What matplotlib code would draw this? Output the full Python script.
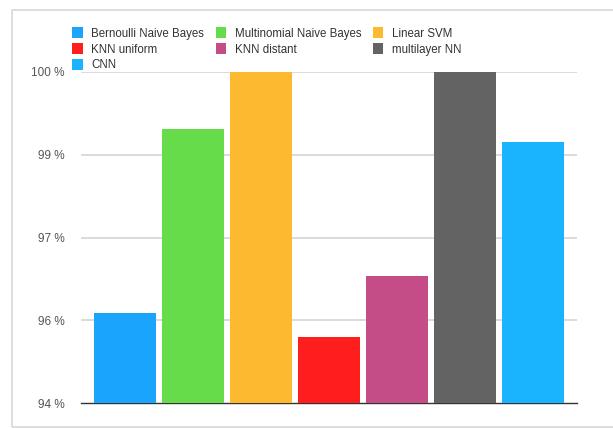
import matplotlib.pyplot as plt
from matplotlib.patches import Rectangle, Patch

models = ["Bernoulli Naive Bayes", "Multinomial Naive Bayes", "Linear SVM",
          "KNN uniform", "KNN distant", "multilayer NN", "CNN"]
accuracy = [95.64, 98.97, 100.0, 95.20, 96.30, 100.0, 98.74]
colors = ["#1aa4fb", "#66dc4a", "#fdb92f", "#fe1e1e", "#c44d88", "#636363", "#1ab3fd"]
tick_vals = [94, 95.5, 97, 98.5, 100]
tick_labels = ["94 %", "96 %", "97 %", "99 %", "100 %"]

plt.rcParams["font.family"] = ["Liberation Sans", "DejaVu Sans"]

fig = plt.figure(figsize=(6.13, 4.28), dpi=100)
ax = fig.add_axes([81 / 613, 1 - 403 / 428, 496 / 613, 331 / 428])

# light frame around the whole chart
fig.patches.append(Rectangle((12 / 613, 1 - 427 / 428), 0.99, 417 / 428,
                             transform=fig.transFigure, fill=False,
                             edgecolor="#d8d8d8", linewidth=1.2))

x = range(len(models))
bars = ax.bar(x, [v - 94 for v in accuracy], bottom=94, width=0.91,
              color=colors, edgecolor="none", zorder=3)

ax.set_xlim(-0.64, 6.65)
ax.set_ylim(94, 100)
ax.set_yticks(tick_vals)
ax.set_yticklabels(tick_labels)
ax.set_xticks([])
ax.tick_params(axis="y", length=0, pad=12, labelsize=8.5, labelcolor="#555555")
for y in tick_vals[1:]:
    ax.axhline(y, xmin=0.003, color="#d4d4d4", linewidth=1.2, zorder=1)
for s in ["top", "right", "left"]:
    ax.spines[s].set_visible(False)
ax.spines["bottom"].set_color("#333333")
ax.spines["bottom"].set_linewidth(1)

# legend: rows fill left to right like the original
order = [0, 3, 6, 1, 4, 2, 5]
handles = [Patch(facecolor=colors[i]) for i in order]
labels = [models[i] for i in order]
fig.legend(handles, labels, ncol=3, loc="upper left",
           bbox_to_anchor=(62 / 613, 1 - 17 / 428), frameon=False,
           fontsize=8.3, handlelength=0.9, handleheight=1.1, handletextpad=0.75,
           columnspacing=1.0, labelspacing=0.28, labelcolor="#333333")

fig.savefig("out.png", dpi=100)
